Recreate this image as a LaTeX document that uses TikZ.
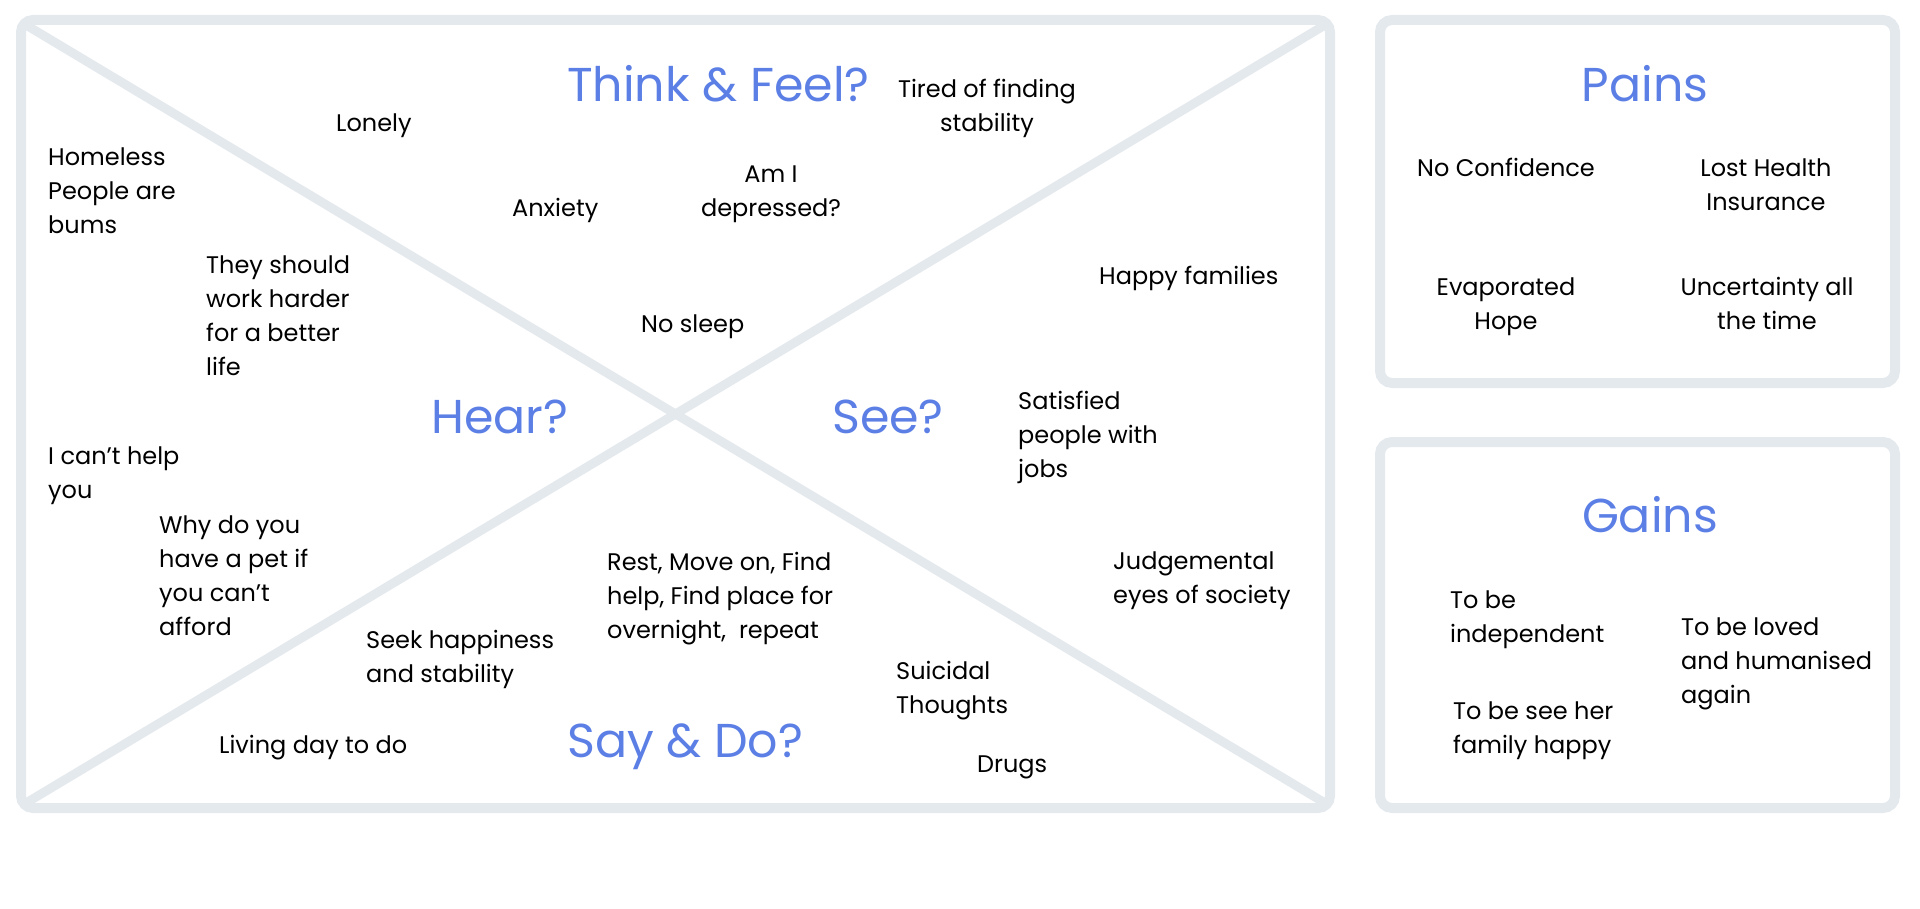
\documentclass[tikz,border=0pt]{standalone}
\usepackage{fontspec}
\setmainfont{Poppins}
\usetikzlibrary{positioning}
\definecolor{mapblue}{HTML}{5C7FE6}
\definecolor{mapline}{HTML}{E4E9ED}

\begin{document}
\begin{tikzpicture}[x=1pt,y=-1pt,
  frame/.style={draw=mapline,line width=10pt,rounded corners=12pt},
  cross/.style={draw=mapline,line width=9pt},
  head/.style={text=mapblue,font=\fontsize{47.5}{52}\selectfont,
    inner sep=0pt,anchor=base west},
  chead/.style={head,anchor=base},
  note/.style={font=\fontsize{24}{34}\selectfont,align=left,
    anchor=base west,inner sep=0pt},
  cnote/.style={note,align=center,anchor=base}]
\useasboundingbox (0,0) rectangle (1920,909);
% empathy map
\coordinate (tl) at (26,25);
\coordinate (tr) at (1325,25);
\coordinate (bl) at (26,803);
\coordinate (br) at (1325,803);
\draw[cross] (tl) -- (br);
\draw[cross] (tr) -- (bl);
\draw[frame] (21,20) rectangle (1330,808);
\node[head] (think) at (567,102) {Think \& Feel?};
\node[head] (hear) at (431,433) {Hear?};
\node[head] (see) at (832,433) {See?};
\node[head] (say) at (567,757) {Say \& Do?};
% notes sit on the baseline of their last line
\node[note] (lonely) at (336,132) {Lonely};
\node[note] (homeless) at (48,234) {Homeless\\People are\\bums};
\node[note] (anxiety) at (512,217) {Anxiety};
\node[note] (harder) at (206,375) {They should\\work harder\\for a better\\life};
\node[note] (nosleep) at (641,333) {No sleep};
\node[cnote] (tired) at (987,132) {Tired of finding\\stability};
\node[cnote] (depressed) at (771,217) {Am I\\depressed?};
\node[note] (families) at (1099,285) {Happy families};
\node[note] (satisfied) at (1018,477) {Satisfied\\people with\\jobs};
\node[note] (cannot) at (48,498) {I can’t help\\you};
\node[note] (pet) at (159,635) {Why do you\\have a pet if\\you can’t\\afford};
\node[note] (seek) at (366,682) {Seek happiness\\and stability};
\node[note] (living) at (219,753) {Living day to do};
\node[note] (routine) at (607,638) {Rest, Move on, Find\\help, Find place for\\overnight,\ \ repeat};
\node[note] (society) at (1113,603) {Judgemental\\eyes of society};
\node[note] (suicidal) at (896,713) {Suicidal\\Thoughts};
\node[note] (drugs) at (977,772) {Drugs};
% pains
\draw[frame] (1380,20) rectangle (1895,383);
\node[chead] (pains) at (1645,102) {Pains};
\node[cnote] (confidence) at (1506,177) {No Confidence};
\node[cnote] (insurance) at (1766,211) {Lost Health\\Insurance};
\node[cnote] (hope) at (1506,330) {Evaporated\\Hope};
\node[cnote] (uncertainty) at (1767,330) {Uncertainty all\\the time};
% gains
\draw[frame] (1380,442) rectangle (1895,808);
\node[chead] (gains) at (1650,532) {Gains};
\node[note] (independent) at (1450,642) {To be\\independent};
\node[note] (loved) at (1681,703) {To be loved\\and humanised\\again};
\node[note] (family) at (1453,753) {To be see her\\family happy};
\end{tikzpicture}
\end{document}
